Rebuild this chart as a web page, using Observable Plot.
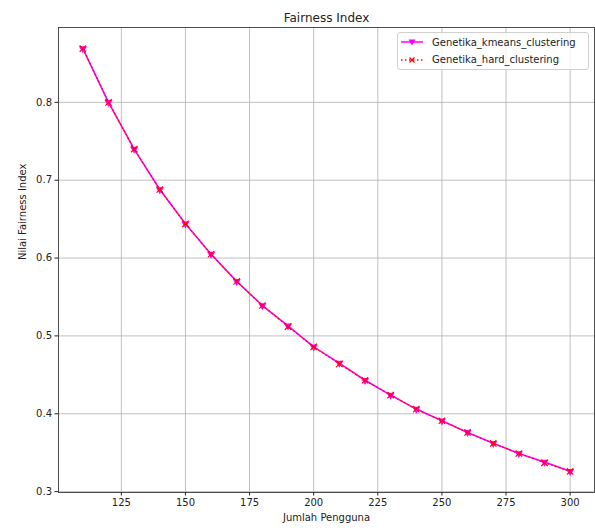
<!DOCTYPE html>
<html>
<head>
<meta charset="utf-8">
<script src="https://cdn.jsdelivr.net/npm/d3@7"></script>
<script src="https://cdn.jsdelivr.net/npm/@observablehq/plot@0.6"></script>
<style>
  html, body { margin: 0; padding: 0; background: #fff; }
  #wrap { position: relative; width: 595px; height: 528px; font-family: "DejaVu Sans", sans-serif; }
  #legend { position: absolute; left: 397px; top: 32px; width: 190px; height: 36px;
    background: rgba(255,255,255,0.8); border: 1px solid #d0d0d0; border-radius: 3px;
    font-size: 10px; color: #222; }
  .row { position: absolute; left: 2px; height: 14px; display: flex; align-items: center; }
  .row svg { display: block; }
  .row span { margin-left: 8px; white-space: nowrap; }
</style>
</head>
<body>
<div id="wrap"></div>
<script>
const jumlahPengguna = [110, 120, 130, 140, 150, 160, 170, 180, 190, 200, 210, 220, 230, 240, 250, 260, 270, 280, 290, 300];
const kmeansValues = [0.869, 0.800, 0.740, 0.688, 0.644, 0.605, 0.570, 0.539, 0.513, 0.486, 0.465, 0.443, 0.424, 0.406, 0.391, 0.376, 0.362, 0.349, 0.338, 0.326];
const hardValues   = [0.869, 0.800, 0.740, 0.688, 0.644, 0.605, 0.570, 0.539, 0.512, 0.486, 0.464, 0.443, 0.424, 0.406, 0.391, 0.376, 0.362, 0.349, 0.337, 0.326];
const xTicks = [125, 150, 175, 200, 225, 250, 275, 300];
const yTicks = [0.3, 0.4, 0.5, 0.6, 0.7, 0.8];
const seriesNames = ["Genetika_kmeans_clustering", "Genetika_hard_clustering"];
const titleText = "Fairness Index";
const xLabel = "Jumlah Pengguna";
const yLabel = "Nilai Fairness Index";

const kmeans = jumlahPengguna.map((x, i) => ({x, y: kmeansValues[i]}));
const hard = jumlahPengguna.map((x, i) => ({x, y: hardValues[i]}));

const allY = kmeansValues.concat(hardValues);
const [x0, x1] = d3.extent(jumlahPengguna);
const [y0, y1] = d3.extent(allY);
const mx = (x1 - x0) * 0.05, my = (y1 - y0) * 0.05;

const font = "DejaVu Sans, sans-serif";
const chart = Plot.plot({
  width: 595,
  height: 528,
  marginLeft: 58,
  marginRight: 1,
  marginTop: 27,
  marginBottom: 36,
  style: { fontFamily: font, fontSize: "10px", color: "#222", background: "#fff" },
  x: { domain: [x0 - mx, x1 + mx] },
  y: { domain: [y0 - my, y1 + my] },
  marks: [
    Plot.gridX(xTicks, { stroke: "#b0b0b0", strokeOpacity: 1, strokeWidth: 0.8 }),
    Plot.gridY(yTicks, { stroke: "#b0b0b0", strokeOpacity: 1, strokeWidth: 0.8 }),
    Plot.axisX(xTicks, { tickSize: 3.5, tickPadding: 3, fontSize: 10, label: null, stroke: "#222", fill: "#222" }),
    Plot.axisY(yTicks, { tickSize: 3.5, tickPadding: 3, fontSize: 10, label: null, tickFormat: d3.format(".1f"), stroke: "#222", fill: "#222" }),
    Plot.frame({ stroke: "#222", strokeWidth: 0.8 }),
    Plot.line(kmeans, { x: "x", y: "y", stroke: "#ff00ff", strokeWidth: 1.6 }),
    Plot.dot(kmeans, { x: "x", y: "y", symbol: "triangle", rotate: 180, r: 3, fill: "#ff00ff", stroke: "none" }),
    Plot.line(hard, { x: "x", y: "y", stroke: "#ff0000", strokeWidth: 1.2, strokeOpacity: 0.8, strokeDasharray: "1.2,2.8" }),
    Plot.dot(hard, { x: "x", y: "y", symbol: "times", r: 3, stroke: "#ff0000", strokeWidth: 1.1 }),
    Plot.text([titleText], { frameAnchor: "top", dy: -14, fontSize: 12, fill: "#222" }),
    Plot.text([xLabel], { frameAnchor: "bottom", dy: 28, fontSize: 10, fill: "#222" }),
    Plot.text([yLabel], { frameAnchor: "left", dx: -36, rotate: -90, fontSize: 10, fill: "#222" })
  ]
});
const wrap = document.getElementById("wrap");
wrap.appendChild(chart);

// legend
const legend = document.createElement("div");
legend.id = "legend";
function sample(kind) {
  const ns = "http://www.w3.org/2000/svg";
  const s = document.createElementNS(ns, "svg");
  s.setAttribute("width", 24); s.setAttribute("height", 12);
  if (kind === 0) {
    s.innerHTML = '<line x1="1" x2="23" y1="6" y2="6" stroke="#ff00ff" stroke-width="1.5"/>' +
      '<path d="M8.5,3.5 L15.5,3.5 L12,9.5 Z" fill="#ff00ff"/>';
  } else {
    s.innerHTML = '<line x1="1" x2="23" y1="6" y2="6" stroke="#ff0000" stroke-width="1.5" stroke-dasharray="1.5,2.5"/>' +
      '<path d="M9.5,3.5 L14.5,8.5 M14.5,3.5 L9.5,8.5" stroke="#ff0000" stroke-width="1.2"/>';
  }
  return s;
}
seriesNames.forEach((name, i) => {
  const row = document.createElement("div");
  row.className = "row";
  row.style.top = (i === 0 ? 2 : 19.5) + "px";
  row.appendChild(sample(i));
  const sp = document.createElement("span");
  sp.textContent = name;
  row.appendChild(sp);
  legend.appendChild(row);
});
wrap.appendChild(legend);
</script>
</body>
</html>
